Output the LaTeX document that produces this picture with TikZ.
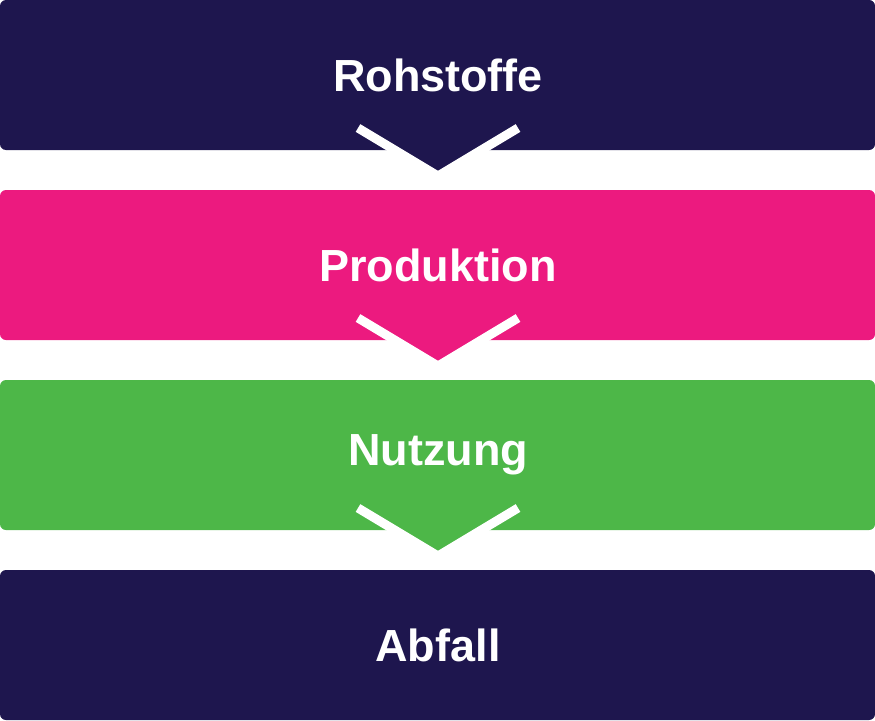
\documentclass[tikz,border=0pt]{standalone}
\usepackage{fontspec}
\setmainfont{Liberation Sans}
\definecolor{navy}{RGB}{30,22,78}
\definecolor{pinkc}{RGB}{236,26,127}
\definecolor{greenc}{RGB}{77,183,72}
\tikzset{x=1pt,y=-1pt,
 lbl/.style={text=white,font=\bfseries\fontsize{45}{50}\selectfont},
 stripe/.style={draw=white,line width=9pt,miter limit=10,line join=miter}}
\begin{document}
\begin{tikzpicture}
\useasboundingbox (0,0) rectangle (875,720);
\foreach \t/\c/\txt/\n in {0/navy/Rohstoffe/a,190/pinkc/Produktion/b,380/greenc/Nutzung/c,570/navy/Abfall/d}{
  \fill[\c,rounded corners=6pt] (0,\t) rectangle (875,\t+150);
  \node[lbl] (\n) at (438,\t+75) {\txt};
}
\foreach \t/\c in {0/navy,190/pinkc,380/greenc}{
  \fill[\c] (392,\t+148) -- (438,\t+174) -- (484,\t+148) -- cycle;
  \draw[stripe] (358,\t+128) -- (438,\t+176) -- (518,\t+128);
}
\end{tikzpicture}
\end{document}
